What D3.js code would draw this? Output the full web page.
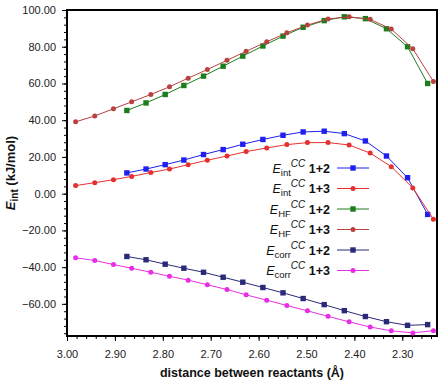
<!DOCTYPE html>
<html>
<head>
<meta charset="utf-8">
<script src="https://cdn.jsdelivr.net/npm/d3@7"></script>
<style>
  body { margin: 0; background: #fff; }
  svg { font-family: "Liberation Sans", Arial, sans-serif; }
</style>
</head>
<body>
<div id="chart"></div>
<script>
// distances (Å) for the two systems
const dist13 = [2.982, 2.942, 2.903, 2.865, 2.825, 2.786, 2.747, 2.707, 2.666, 2.626,
  2.583, 2.541, 2.498, 2.455, 2.411, 2.367, 2.323, 2.278, 2.235]
const dist12 = [2.875, 2.835, 2.795, 2.756, 2.715, 2.674, 2.633, 2.591, 2.549, 2.507,
  2.463, 2.421, 2.377, 2.333, 2.289, 2.247]

// energies (kJ/mol)
const eint12 = [11.3, 13.4, 15.8, 18.3, 21.3, 24.0, 26.9, 29.5, 31.8, 33.6, 34.0, 32.7, 28.7, 20.5, 8.7, -11.3]
const eint13 = [4.4, 6.0, 7.6, 9.4, 11.5, 13.4, 15.8, 18.2, 20.5, 22.9, 24.9, 26.7, 27.8, 27.8, 26.5, 22.1, 14.7, 3.1, -13.9]
const ehf12 = [45.3, 49.4, 54.0, 58.9, 64.0, 69.4, 74.9, 80.4, 85.8, 90.6, 94.2, 96.3, 95.3, 89.8, 80.0, 60.0]
const ehf13 = [39.1, 42.3, 46.2, 50.0, 54.0, 58.2, 62.9, 67.6, 72.6, 77.5, 82.7, 87.6, 91.8, 95.1, 96.3, 94.9, 89.6, 78.9, 61.1]
const ecorr12 = [-34.2, -36.0, -38.4, -40.6, -42.8, -45.5, -48.2, -51.1, -54.0, -57.1, -60.4, -63.7, -66.9, -69.7, -71.7, -71.3]
const ecorr13 = [-34.9, -36.4, -38.6, -40.6, -42.8, -45.0, -47.1, -49.6, -52.2, -55.1, -58.0, -60.9, -63.8, -66.8, -69.8, -72.6, -74.7, -75.8, -74.6]

const xTicks = [3.00, 2.90, 2.80, 2.70, 2.60, 2.50, 2.40, 2.30]
const yTicks = [-60, -40, -20, 0, 20, 40, 60, 80, 100]

const series = [
  { sub: "int", sys: "1+2", xs: dist12, ys: eint12, color: "#1f1fef", shape: "square" },
  { sub: "int", sys: "1+3", xs: dist13, ys: eint13, color: "#e5302f", shape: "circle" },
  { sub: "HF", sys: "1+2", xs: dist12, ys: ehf12, color: "#1d7d1d", shape: "square" },
  { sub: "HF", sys: "1+3", xs: dist13, ys: ehf13, color: "#b8423f", shape: "circle" },
  { sub: "corr", sys: "1+2", xs: dist12, ys: ecorr12, color: "#2a2a78", shape: "square" },
  { sub: "corr", sys: "1+3", xs: dist13, ys: ecorr13, color: "#e82ee4", shape: "circle" }
]

const width = 442, height = 380
const margin = { top: 10, right: 5, bottom: 44, left: 67 }

const svg = d3.select("#chart").append("svg")
  .attr("width", width)
  .attr("height", height)

const x = d3.scaleLinear()
  .domain([3.00, 2.2275])
  .range([margin.left, width - margin.right])

const y = d3.scaleLinear()
  .domain([-77.5, 100])
  .range([height - margin.bottom, margin.top])

const fmt = d3.format(".2f")

// minor ticks first, then major ones on top
svg.append("g")
  .attr("transform", `translate(0,${height - margin.bottom})`)
  .call(d3.axisBottom(x).tickValues(d3.range(3.00, 2.22, -0.02)).tickSize(3).tickFormat(""))
  .call(g => g.select(".domain").remove())

svg.append("g")
  .attr("transform", `translate(${margin.left},0)`)
  .call(d3.axisLeft(y).tickValues(d3.range(-76, 101, 4)).tickSize(3).tickFormat(""))
  .call(g => g.select(".domain").remove())

const xAxis = svg.append("g")
  .attr("transform", `translate(0,${height - margin.bottom})`)
  .call(d3.axisBottom(x).tickValues(xTicks).tickSize(5).tickPadding(9).tickFormat(fmt))
xAxis.select(".domain").remove()
xAxis.selectAll("text").attr("font-size", 11).attr("fill", "#222")

const yAxis = svg.append("g")
  .attr("transform", `translate(${margin.left},0)`)
  .call(d3.axisLeft(y).tickValues(yTicks).tickSize(5).tickPadding(6).tickFormat(fmt))
yAxis.select(".domain").remove()
yAxis.selectAll("text").attr("font-size", 11).attr("fill", "#222")

// plot frame
svg.append("rect")
  .attr("x", margin.left)
  .attr("y", margin.top)
  .attr("width", width - margin.left - margin.right)
  .attr("height", height - margin.top - margin.bottom)
  .attr("fill", "none")
  .attr("stroke", "#000")
  .attr("stroke-width", 2)

const line = d3.line()
  .x(d => x(d[0]))
  .y(d => y(d[1]))

function drawMarker(g, shape, color, cx, cy) {
  if (shape === "square") {
    g.append("rect")
      .attr("x", cx - 2.7).attr("y", cy - 2.7)
      .attr("width", 5.4).attr("height", 5.4)
      .attr("fill", color)
  } else {
    g.append("circle")
      .attr("cx", cx).attr("cy", cy).attr("r", 2.5)
      .attr("fill", color)
  }
}

series.forEach(s => {
  const pts = s.xs.map((d, i) => [d, s.ys[i]])
  const g = svg.append("g")
  g.append("path")
    .attr("d", line(pts))
    .attr("fill", "none")
    .attr("stroke", s.color)
    .attr("stroke-width", 1)
  pts.forEach(p => drawMarker(g, s.shape, s.color, x(p[0]), y(p[1])))
})

// legend
const legend = svg.append("g")
series.forEach((s, i) => {
  const ly = 168 + i * 20.5
  const t = legend.append("text")
    .attr("x", 330)
    .attr("y", ly + 4.5)
    .attr("text-anchor", "end")
    .attr("font-size", 12.5)
    .attr("fill", "#111")
  t.append("tspan").attr("font-style", "italic").text("E")
  t.append("tspan").attr("font-size", 9.5).attr("dy", 3).text(s.sub)
  t.append("tspan").attr("font-size", 10).attr("font-style", "italic").attr("dy", -9).text("CC")
  t.append("tspan").attr("font-weight", "bold").attr("dy", 6).text(" " + s.sys)
  legend.append("line")
    .attr("x1", 337).attr("x2", 369)
    .attr("y1", ly).attr("y2", ly)
    .attr("stroke", s.color)
    .attr("stroke-width", 1)
  drawMarker(legend, s.shape, s.color, 353, ly)
})

// axis titles
svg.append("text")
  .attr("x", (margin.left + width - margin.right) / 2)
  .attr("y", 377)
  .attr("text-anchor", "middle")
  .attr("font-size", 12.5)
  .attr("font-weight", "bold")
  .attr("fill", "#111")
  .text("distance between reactants (Å)")

const yt = svg.append("text")
  .attr("transform", `translate(15,${(margin.top + height - margin.bottom) / 2}) rotate(-90)`)
  .attr("text-anchor", "middle")
  .attr("font-size", 13)
  .attr("font-weight", "bold")
  .attr("fill", "#111")
yt.append("tspan").attr("font-style", "italic").text("E")
yt.append("tspan").attr("font-size", 10).attr("dy", 3).text("int")
yt.append("tspan").attr("dy", -3).text(" (kJ/mol)")
</script>
</body>
</html>
